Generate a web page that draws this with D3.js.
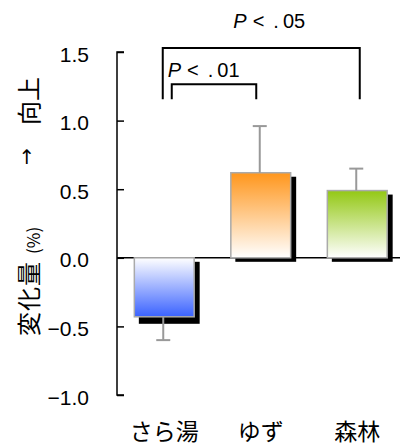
<!DOCTYPE html>
<html><head><meta charset="utf-8">
<script src="https://cdn.jsdelivr.net/npm/d3@7"></script>
<style>
html,body{margin:0;padding:0;background:#fff;}
svg{display:block;}
</style></head>
<body>
<script>
const categories = ["さら湯", "ゆず", "森林"];
const values = [-0.43, 0.62, 0.49];
const errors = [0.17, 0.34, 0.16];
const yTicks = [-1.0, -0.5, 0.0, 0.5, 1.0, 1.5];
const tickLabels = ["−1.0", "−0.5", "0.0", "0.5", "1.0", "1.5"];
const colors = ["#3a62ff", "#ff961c", "#93c814"];
const gradDir = ["up", "down", "down"]; // where the saturated colour sits
const brackets = [
  {from: "さら湯", to: "森林", top: 1.53, bottom: 1.155, label: "05", dl: -1.5, dr: 2.5, labelPos: "above"},
  {from: "さら湯", to: "ゆず", top: 1.265, bottom: 1.155, label: "01", dl: 7.5, dr: -4.5, labelPos: "left"}
];

const W = 401, H = 448;
const svg = d3.select("body").append("svg").attr("width", W).attr("height", H);

const x = d3.scaleBand().domain(categories).range([116, 405.5]).paddingInner(0.38).paddingOuter(0.19);
const y = d3.scaleLinear().domain([-1, 1.5]).range([395, 52]);

const defs = svg.append("defs");
categories.forEach((c, i) => {
  const g = defs.append("linearGradient").attr("id", "g" + i)
    .attr("x1", 0).attr("y1", 0).attr("x2", 0).attr("y2", 1);
  const top = gradDir[i] === "down" ? colors[i] : "#ffffff";
  const bot = gradDir[i] === "down" ? "#ffffff" : colors[i];
  g.append("stop").attr("offset", "0%").attr("stop-color", top);
  g.append("stop").attr("offset", "100%").attr("stop-color", bot);
});

// axis
const axis = d3.axisRight(y).tickValues(yTicks).tickSize(7).tickFormat("");
const ag = svg.append("g").attr("transform", "translate(117,0)").call(axis);
ag.select(".domain").attr("d", `M7,${y(1.5)}H0V${y(-1)}H7`).attr("stroke", "#000").attr("stroke-width", 1.5);
ag.selectAll(".tick line").attr("stroke", "#000").attr("stroke-width", 1.5);

svg.append("g").selectAll("text").data(yTicks).join("text")
  .attr("x", 89).attr("y", d => y(d) + 2)
  .attr("text-anchor", "end").attr("dominant-baseline", "central")
  .style("font-family", "'Liberation Sans', Arial, sans-serif").style("font-size", "21px")
  .attr("fill", "#000")
  .text((d, i) => tickLabels[i]);

// shadows
svg.append("g").selectAll("rect").data(values).join("rect")
  .attr("x", (d, i) => x(categories[i]) + 4.5)
  .attr("y", d => Math.min(y(d), y(0)) + 4)
  .attr("width", x.bandwidth() + 1)
  .attr("height", d => Math.abs(y(d) - y(0)) + (d < 0 ? 3 : 0))
  .attr("fill", "#000");

// zero line
svg.append("line").attr("x1", 117).attr("x2", 400).attr("y1", y(0)).attr("y2", y(0))
  .attr("stroke", "#000").attr("stroke-width", 1.5);

// bars
svg.append("g").selectAll("rect").data(values).join("rect")
  .attr("x", (d, i) => x(categories[i]))
  .attr("y", d => Math.min(y(d), y(0)))
  .attr("width", x.bandwidth())
  .attr("height", d => Math.abs(y(d) - y(0)))
  .attr("fill", (d, i) => `url(#g${i})`)
  .attr("stroke", "#aaaaaa").attr("stroke-width", 1.5);

// error bars
const eg = svg.append("g").attr("stroke", "#999").attr("stroke-width", 2);
values.forEach((v, i) => {
  const cx = x(categories[i]) + x.bandwidth() / 2 - 1;
  const end = v + Math.sign(v) * errors[i];
  eg.append("line").attr("x1", cx).attr("x2", cx).attr("y1", y(v)).attr("y2", y(end));
  eg.append("line").attr("x1", cx - 7).attr("x2", cx + 7).attr("y1", y(end)).attr("y2", y(end));
});

// category labels
svg.append("g").selectAll("text").data(categories).join("text")
  .attr("x", d => x(d) + x.bandwidth() / 2)
  .attr("y", 440)
  .attr("text-anchor", "middle")
  .style("font-family", "'Noto Sans CJK JP', sans-serif").style("font-size", "23px")
  .attr("fill", "#000")
  .text(d => d);

// significance brackets
const bg = svg.append("g");
brackets.forEach(b => {
  const xl = x(b.from) + x.bandwidth() / 2 + b.dl;
  const xr = x(b.to) + x.bandwidth() / 2 + b.dr;
  bg.append("path")
    .attr("d", `M${xl},${y(b.bottom)}V${y(b.top)}H${xr}V${y(b.bottom)}`)
    .attr("fill", "none").attr("stroke", "#000").attr("stroke-width", 2);
  const t = bg.append("text")
    .style("font-family", "'Liberation Sans', Arial, sans-serif").style("font-size", "20px")
    .attr("fill", "#000");
  if (b.labelPos === "above") {
    t.attr("x", (xl + xr) / 2 + 8).attr("y", 28).attr("text-anchor", "middle");
  } else {
    t.attr("x", xl - 4).attr("y", y(b.top) - 7).attr("text-anchor", "start");
  }
  t.append("tspan").style("font-style", "italic").text("P");
  t.append("tspan").attr("dx", 6).text("<");
  t.append("tspan").attr("dx", 9).text(".");
  t.append("tspan").attr("dx", 4).text(b.label);
});

// y axis title (rotated)
const yl = svg.append("g").attr("transform", "translate(27,0) rotate(-90)")
  .style("font-family", "'Noto Sans CJK JP', sans-serif").attr("fill", "#000");
yl.append("text").attr("x", -336).attr("y", 0).attr("dominant-baseline", "central")
  .style("font-size", "24px").style("letter-spacing", "1px").text("変化量");
yl.append("text").attr("x", -254).attr("y", 5).attr("dominant-baseline", "central")
  .style("font-size", "17px").text("(%)");
yl.append("text").attr("x", -125).attr("y", 0).attr("dominant-baseline", "central")
  .style("font-size", "24px").text("向上");
svg.append("text").attr("x", 27).attr("y", 157).attr("text-anchor", "middle")
  .attr("dominant-baseline", "central")
  .style("font-family", "'DejaVu Sans', sans-serif").style("font-size", "20px")
  .attr("fill", "#000").text("↑");
</script>
</body></html>
